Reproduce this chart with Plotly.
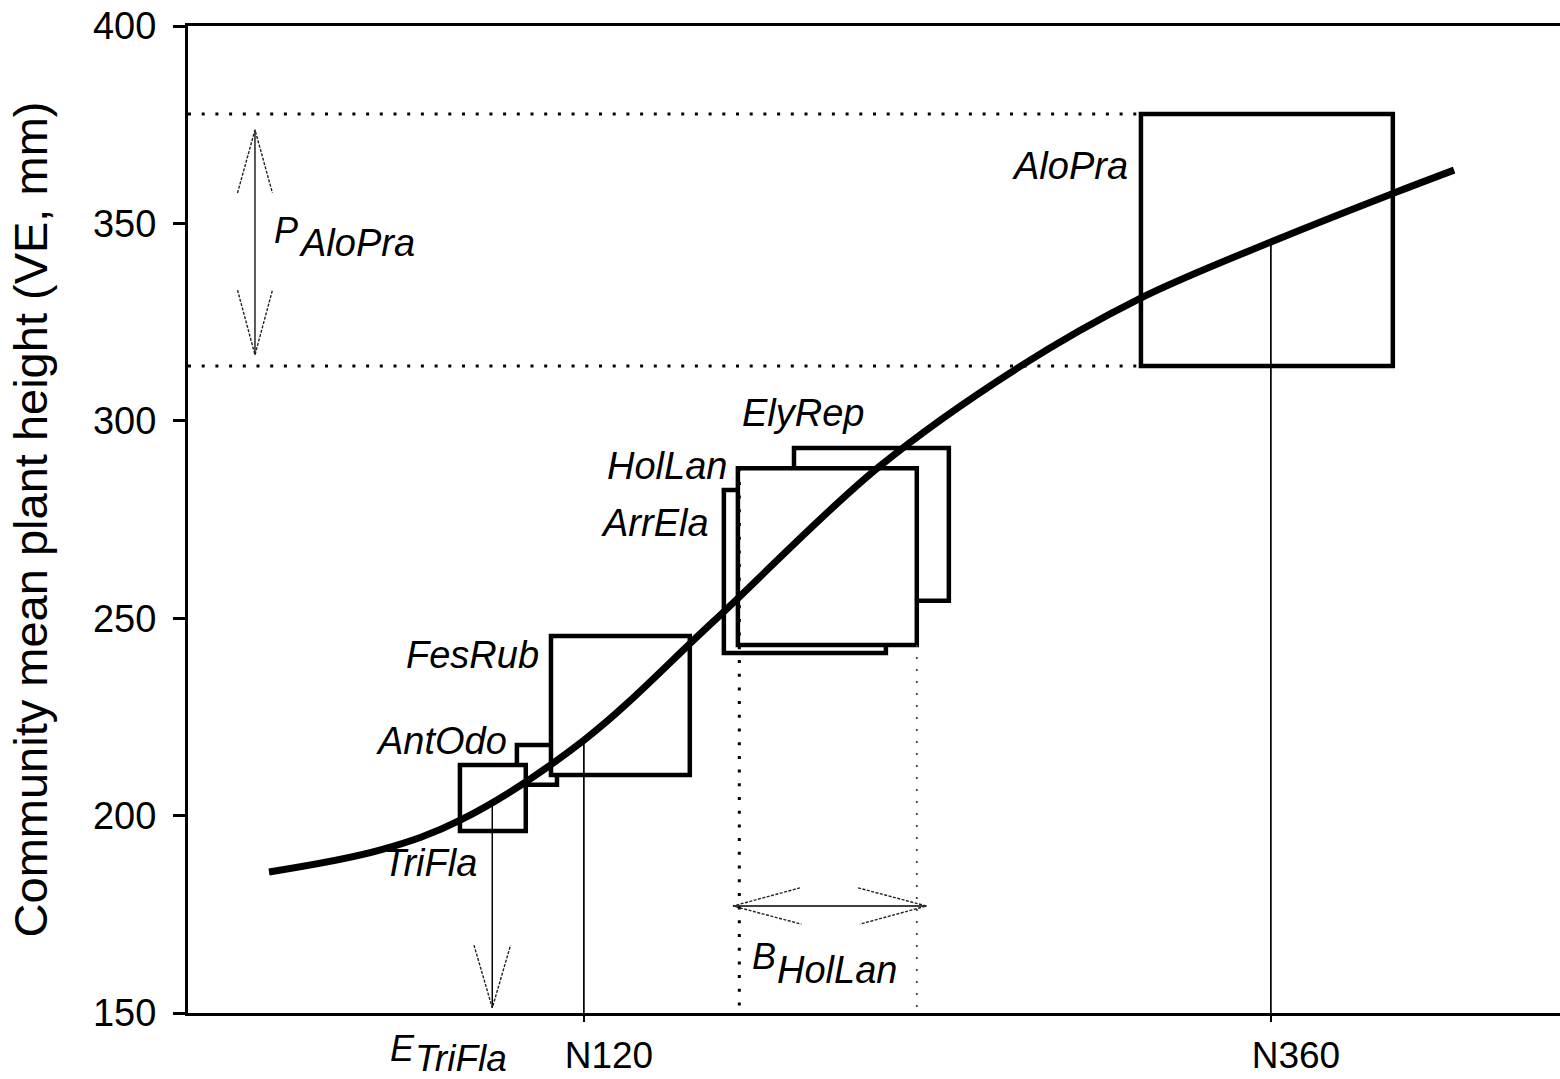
import plotly.graph_objects as go

# ---- data ----
CURVE_N = [10, 49, 77, 120, 165, 223, 272, 314, 360, 403, 424]
CURVE_H = [185.7, 191.3, 198.9, 219.1, 249.0, 288.3, 313.6, 330.9, 345.3, 357.7, 363.5]

SPECIES = ["TriFla", "AntOdo", "FesRub", "ArrEla", "HolLan", "ElyRep", "AloPra"]
BOX_N_LOW = [76.7, 96.6, 108.5, 168.9, 173.8, 193.4, 314.6]
BOX_N_HIGH = [99.7, 110.6, 157.0, 225.5, 236.3, 247.5, 402.6]
BOX_H_LOW = [196.1, 207.8, 210.3, 241.2, 243.2, 254.4, 313.9]
BOX_H_HIGH = [212.8, 217.9, 245.5, 282.5, 288.0, 293.1, 377.7]

X_TICKS = [120, 360]
X_TICK_TEXT = ["N120", "N360"]
Y_TICKS = [150, 200, 250, 300, 350, 400]
DROP_H = [219.1, 345.3]      # curve height at the N120 / N360 drop lines

E_TRIFLA = [88, 203.4]       # effect arrow position (N, curve height)
P_ALOPRA = [313.9, 377.7]    # range of AloPra box heights
B_HOLLAN = [173.8, 236.3]    # breadth of HolLan box

FONT = "Liberation Sans, Arial, sans-serif"

fig = go.Figure()

# ---- boxes (drawing order: back to front) ----
order = [5, 3, 4, 1, 0, 2, 6]
for i in order:
    fig.add_shape(type="rect", xref="x", yref="y",
                  x0=BOX_N_LOW[i], x1=BOX_N_HIGH[i], y0=BOX_H_LOW[i], y1=BOX_H_HIGH[i],
                  line=dict(color="black", width=4.5), fillcolor="white", layer="below")

def line(xs, ys, width=1.5, dash="solid", color="black"):
    fig.add_trace(go.Scatter(x=xs, y=ys, mode="lines", hoverinfo="skip", showlegend=False,
                             line=dict(color=color, width=width, dash=dash)))

DOT = dict(width=3, dash="3px,10.7px")
# dotted reference lines for P (AloPra)
line([-18.3, BOX_N_LOW[6]], [P_ALOPRA[1], P_ALOPRA[1]], **DOT)
line([-18.3, BOX_N_LOW[6]], [P_ALOPRA[0], P_ALOPRA[0]], **DOT)
# dotted verticals for B (HolLan)
line([B_HOLLAN[0] + 0.5, B_HOLLAN[0] + 0.5], [BOX_H_HIGH[4], 150], **DOT)
line([B_HOLLAN[1], B_HOLLAN[1]], [BOX_H_LOW[4], 150], width=1.8, dash="2px,10px", color="#444")

# drop lines from curve to axis
line([E_TRIFLA[0], E_TRIFLA[0]], [E_TRIFLA[1], 151.3], width=1.5)
for n, h in zip(X_TICKS, DROP_H):
    line([n, n], [h, 150], width=1.7)

# arrowheads (open V, thin dashed arms)
ARM = dict(width=1.4, dash="3px,1.5px", color="#222")
ex = E_TRIFLA[0]
line([ex - 6.4, ex, ex + 6.4], [167.2, 151.3, 167.2], **ARM)
# P double arrow (vertical)
px_ = 5.1
line([px_, px_], [373.7, 316.7], width=1.3)
line([px_ - 6.1, px_, px_ + 6.1], [357.7, 373.7, 357.7], **ARM)
line([px_ - 6.1, px_, px_ + 6.1], [333.1, 316.7, 333.1], **ARM)
# B double arrow (horizontal)
by = 177.1
line([172.1, 239.7], [by, by], width=1.3)
line([195.5, 172.1, 196.0], [181.7, by, 172.5], **ARM)
line([215.8, 239.7, 216.4], [181.7, by, 172.5], **ARM)

# curve
fig.add_trace(go.Scatter(x=CURVE_N, y=CURVE_H, mode="lines", hoverinfo="skip", showlegend=False,
                         line=dict(color="black", width=7, shape="spline", smoothing=1.0)))

# ---- labels ----
LABEL_POS = {  # right edge x, centre y
    "TriFla": (83.0, 188.0), "AntOdo": (93.4, 218.9), "FesRub": (104.6, 240.7),
    "ArrEla": (164.0, 274.1), "HolLan": (170.3, 288.6), "ElyRep": (218.5, 302.0),
    "AloPra": (310.5, 364.5),
}
for sp in SPECIES:
    x, y = LABEL_POS[sp]
    fig.add_annotation(x=x, y=y, xref="x", yref="y", text=f"<i>{sp}</i>", showarrow=False,
                       xanchor="right", yanchor="middle", borderpad=0,
                       font=dict(family=FONT, size=38, color="black"))

def ann(text, x, y, size, xanchor="left", yref="y"):
    fig.add_annotation(x=x, y=y, xref="x", yref=yref, text=text, showarrow=False,
                       xanchor=xanchor, yanchor="middle", borderpad=0,
                       font=dict(family=FONT, size=size, color="black"))

ann("<i>P</i>", 20.4, 348.3, 36, xanchor="right")
ann("<i>AloPra</i>", 20.1, 345.0, 38)
ann("<i>B</i>", 187.4, 164.2, 36, xanchor="right")
ann("<i>HolLan</i>", 187.1, 160.9, 38)
ann("<i>E</i>", 61.3, -0.036, 36, xanchor="right", yref="paper")
ann("<i>TriFla</i>", 60.6, -0.046, 37, yref="paper")

fig.update_layout(
    width=1560, height=1079,
    margin=dict(l=188, r=0, t=26, b=66, autoexpand=False),
    plot_bgcolor="white", paper_bgcolor="white",
    font=dict(family=FONT, size=38, color="black"),
    xaxis=dict(range=[-18.3, 461], showgrid=False, zeroline=False, automargin=False,
               showline=True, linecolor="black", linewidth=3, mirror=True,
               tickmode="array", tickvals=X_TICKS, ticktext=X_TICK_TEXT,
               ticks="outside", ticklen=6, tickwidth=1.7, tickcolor="black",
               ticklabelshift=25, ticklabelstandoff=2,
               tickfont=dict(family=FONT, size=37)),
    yaxis=dict(range=[150, 400], showgrid=False, zeroline=False, automargin=False,
               showline=True, linecolor="black", linewidth=3, mirror=False,
               tickmode="array", tickvals=Y_TICKS,
               ticks="outside", ticklen=12, tickwidth=3, tickcolor="black",
               ticklabelstandoff=9,
               tickfont=dict(family=FONT, size=38),
               title=dict(text="Community mean plant height (VE, mm)",
                          font=dict(family=FONT, size=47), standoff=31)),
)

fig.write_html("out.html")
